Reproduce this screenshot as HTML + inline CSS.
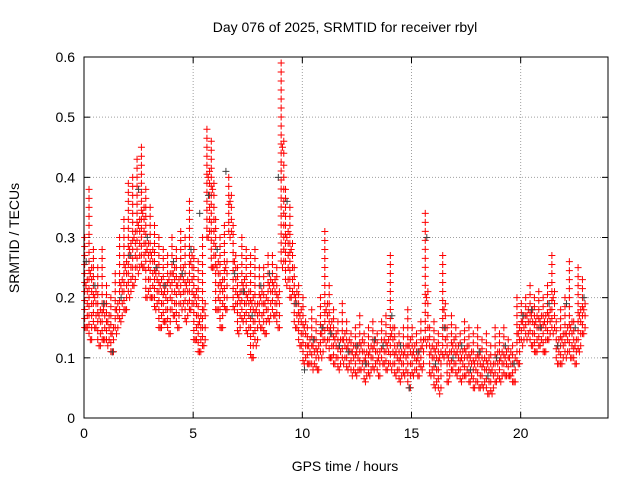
<!DOCTYPE html>
<html><head><meta charset="utf-8"><style>
body{margin:0;background:#fff}
svg{display:block;font-family:"Liberation Sans",sans-serif}
</style></head><body>
<svg id="chart" width="640" height="480" viewBox="0 0 640 480">
<rect width="640" height="480" fill="#fff"/>
<text x="345" y="32" font-size="14" text-anchor="middle">Day 076 of 2025, SRMTID for receiver rbyl</text>
<text x="345" y="471" font-size="14" text-anchor="middle">GPS time / hours</text>
<text x="19" y="238" font-size="14" text-anchor="middle" transform="rotate(-90 19 238)">SRMTID / TECUs</text>
<g id="grid"></g><g id="ticks"></g><g id="marks"></g>
<rect x="84" y="57" width="524" height="361" fill="none" stroke="#000" stroke-width="1"/>
</svg>
<script>
const xTicks=[0,5,10,15,20];
const yTicks=[0,0.1,0.2,0.3,0.4,0.5,0.6];
const yTickLabels=["0","0.1","0.2","0.3","0.4","0.5","0.6"];
const times=[0,0.2,0.4,0.6,0.8,1,1.2,1.4,1.6,1.8,2,2.2,2.4,2.6,2.8,3,3.2,3.4,3.6,3.8,4,4.2,4.4,4.6,4.8,5,5.2,5.4,5.6,5.8,6,6.2,6.4,6.6,6.8,7,7.2,7.4,7.6,7.8,8,8.2,8.4,8.6,8.8,9,9.2,9.4,9.6,9.8,10,10.2,10.4,10.6,10.8,11,11.2,11.4,11.6,11.8,12,12.2,12.4,12.6,12.8,13,13.2,13.4,13.6,13.8,14,14.2,14.4,14.6,14.8,15,15.2,15.4,15.6,15.8,16,16.2,16.4,16.6,16.8,17,17.2,17.4,17.6,17.8,18,18.2,18.4,18.6,18.8,19,19.2,19.4,19.6,19.8,20,20.2,20.4,20.6,20.8,21,21.2,21.4,21.6,21.8,22,22.2,22.4,22.6,22.8];
const redHigh=[.30,.38,.28,.25,.28,.22,.20,.24,.30,.33,.39,.40,.43,.45,.38,.35,.32,.30,.28,.27,.30,.28,.31,.30,.36,.28,.26,.30,.48,.46,.33,.30,.32,.40,.32,.25,.30,.28,.27,.28,.25,.25,.27,.27,.25,.59,.38,.35,.25,.22,.20,.15,.18,.16,.20,.31,.22,.18,.16,.19,.16,.14,.15,.17,.14,.15,.16,.14,.16,.17,.27,.15,.14,.15,.18,.15,.14,.16,.34,.15,.16,.14,.27,.15,.17,.15,.14,.16,.15,.14,.15,.13,.14,.12,.15,.14,.15,.13,.12,.20,.19,.20,.22,.20,.21,.20,.22,.27,.16,.18,.20,.26,.16,.25,.23];
const redMid=[.22,.24,.20,.17,.18,.16,.14,.18,.22,.25,.28,.30,.32,.34,.28,.27,.24,.22,.21,.23,.24,.22,.24,.22,.26,.20,.16,.18,.40,.38,.25,.22,.25,.36,.26,.20,.22,.20,.19,.18,.20,.19,.22,.22,.20,.45,.30,.28,.20,.17,.15,.12,.12,.11,.14,.18,.15,.13,.12,.13,.12,.11,.11,.12,.10,.11,.12,.10,.12,.12,.14,.11,.10,.11,.12,.11,.10,.12,.20,.11,.11,.10,.18,.10,.12,.11,.10,.11,.10,.09,.10,.09,.09,.08,.10,.10,.10,.10,.09,.14,.16,.17,.17,.16,.16,.16,.17,.20,.12,.13,.14,.15,.12,.17,.18];
const redLow=[.15,.13,.15,.12,.13,.12,.11,.14,.16,.18,.20,.22,.24,.25,.20,.20,.18,.15,.16,.14,.17,.15,.18,.16,.18,.13,.11,.12,.30,.25,.18,.15,.18,.30,.18,.14,.16,.14,.10,.12,.15,.14,.16,.17,.15,.25,.22,.20,.15,.12,.09,.09,.08,.08,.10,.12,.10,.09,.08,.09,.08,.07,.07,.08,.06,.07,.08,.07,.09,.08,.08,.07,.06,.07,.05,.07,.07,.08,.12,.07,.05,.04,.10,.06,.08,.07,.06,.07,.06,.05,.05,.05,.04,.04,.06,.06,.07,.07,.06,.09,.12,.13,.12,.11,.12,.11,.13,.14,.09,.09,.10,.10,.09,.11,.14];
const greyTimes=[0.1,0.5,0.9,1.3,1.7,2.1,2.5,2.9,3.3,3.7,4.1,4.5,4.9,5.3,5.7,6.1,6.5,6.9,7.3,7.7,8.1,8.5,8.9,9.3,9.7,10.1,10.5,10.9,11.3,11.7,12.1,12.5,12.9,13.3,13.7,14.1,14.5,14.9,15.3,15.7,16.1,16.5,16.9,17.3,17.7,18.1,18.5,18.9,19.3,19.7,20.1,20.5,20.9,21.3,21.7,22.1,22.5,22.9];
const greyValues=[.26,.22,.19,.11,.20,.27,.38,.30,.25,.22,.26,.24,.28,.34,.37,.28,.41,.24,.21,.17,.22,.24,.40,.36,.19,.08,.13,.15,.14,.12,.11,.12,.09,.13,.12,.17,.12,.05,.11,.30,.09,.15,.10,.12,.08,.11,.07,.10,.12,.09,.17,.18,.15,.19,.12,.19,.15,.20];

const X0=84,X1=608,Y0=418,Y1=57;
const xs=t=>X0+t*(X1-X0)/24;
const ys=v=>Y0-v*(Y0-Y1)/0.6;
const NS="http://www.w3.org/2000/svg";
function mk(tag,attrs,parent){const e=document.createElementNS(NS,tag);for(const k in attrs)e.setAttribute(k,attrs[k]);parent.appendChild(e);return e;}
const grid=document.getElementById('grid'),ticks=document.getElementById('ticks'),marks=document.getElementById('marks');
xTicks.forEach(t=>{
  const x=xs(t);
  const g=mk('line',{x1:x,x2:x,y1:Y1,y2:Y0,stroke:'#a0a0a0','stroke-dasharray':'1,2'},grid);
  
  
  mk('line',{x1:x,x2:x,y1:Y0,y2:Y0-6,stroke:'#000'},ticks);
  mk('line',{x1:x,x2:x,y1:Y1,y2:Y1+6,stroke:'#000'},ticks);
  const l=mk('text',{x:x,y:Y0+20,'font-size':14,'text-anchor':'middle'},ticks);
  l.textContent=String(t);
  
  
});
yTicks.forEach((v,i)=>{
  const y=ys(v);
  const g=mk('line',{x1:X0,x2:X1,y1:y,y2:y,stroke:'#a0a0a0','stroke-dasharray':'1,2'},grid);
  
  
  mk('line',{x1:X0,x2:X0+6,y1:y,y2:y,stroke:'#000'},ticks);
  mk('line',{x1:X1,x2:X1-6,y1:y,y2:y,stroke:'#000'},ticks);
  const l=mk('text',{x:X0-9,y:y+5,'font-size':14,'text-anchor':'end'},ticks);
  l.textContent=yTickLabels[i];
  
  
});
function plus(x,y,color,name){
  const p=mk('path',{d:`M${x-3.5},${y}H${x+3.5}M${x},${y-3.5}V${y+3.5}`,stroke:color,'stroke-width':1,fill:'none'},marks);
  
  
}
times.forEach((t,i)=>{
  // vertical pass stack spanning this interval's observed low..high range
  const xa=xs(t+0.03), xb=xs(t+0.15);
  const yTop=ys(redHigh[i]), yBot=ys(redLow[i]);
  for(let y=yTop;y<=yBot;y+=9){ plus(xa,y,'#ff0000','red-point'); }
  for(let y=ys(redMid[i])-6;y<=yBot+3;y+=12){ plus(xb,Math.max(yTop,y),'#ff0000','red-point'); }
  plus(xs(t+0.09),ys(redMid[i]),'#ff0000','red-point-mid');
  plus(xs(t+0.09),yBot,'#ff0000','red-point-low');
});
greyTimes.forEach((t,i)=>plus(xs(t),ys(greyValues[i]),'#404040','grey-point'));
</script>
</body></html>
